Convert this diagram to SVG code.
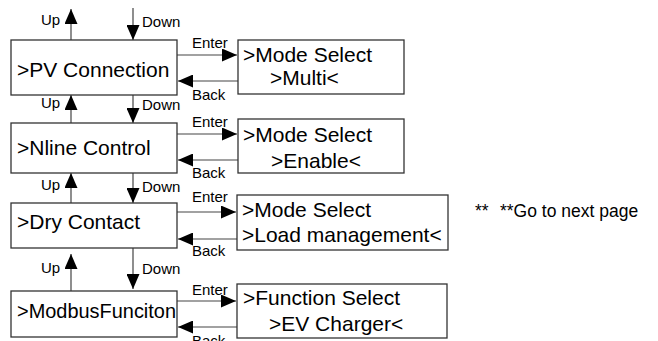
<svg xmlns="http://www.w3.org/2000/svg" width="658" height="341" viewBox="0 0 658 341">
<style>
.box{fill:#fff;stroke:#333;stroke-width:1.3}
.t{font-family:"Liberation Sans",Arial,sans-serif;font-size:21px;fill:#000}
.l{font-family:"Liberation Sans",Arial,sans-serif;font-size:15px;fill:#000}
.n{font-family:"Liberation Sans",Arial,sans-serif;font-size:17.5px;fill:#000}
.c{stroke:#444;stroke-width:1.2;fill:none;marker-end:url(#ah)}
</style>
<defs>
<marker id="ah" markerUnits="userSpaceOnUse" markerWidth="15" markerHeight="13" refX="15" refY="6.5" orient="auto" viewBox="0 0 15 13">
<path d="M0,0 L15,6.5 L0,13 z" fill="#000"/>
</marker>
</defs>
<rect width="658" height="341" fill="#fff"/>
<g id="connectors">
<line class="c" x1="71" y1="40" x2="71" y2="9"/>
<line class="c" x1="133" y1="8" x2="133" y2="40"/>
<line class="c" x1="71" y1="123" x2="71" y2="95"/>
<line class="c" x1="133" y1="95" x2="133" y2="123"/>
<line class="c" x1="71" y1="203" x2="71" y2="173"/>
<line class="c" x1="133" y1="173" x2="133" y2="203"/>
<line class="c" x1="71" y1="291" x2="71" y2="254"/>
<line class="c" x1="133" y1="248" x2="133" y2="289"/>
<line class="c" x1="177" y1="55" x2="237" y2="55"/>
<line class="c" x1="238" y1="81" x2="178" y2="81"/>
<line class="c" x1="177" y1="134" x2="237" y2="134"/>
<line class="c" x1="238" y1="160" x2="178" y2="160"/>
<line class="c" x1="177" y1="212" x2="236" y2="212"/>
<line class="c" x1="237" y1="239" x2="178" y2="239"/>
<line class="c" x1="177" y1="301" x2="236" y2="301"/>
<line class="c" x1="237" y1="327" x2="178" y2="327"/>
<text class="l" x="41" y="25">Up</text>
<text class="l" x="142" y="27">Down</text>
<text class="l" x="41" y="108">Up</text>
<text class="l" x="142" y="110">Down</text>
<text class="l" x="41" y="190">Up</text>
<text class="l" x="142" y="192">Down</text>
<text class="l" x="41" y="273">Up</text>
<text class="l" x="142" y="274">Down</text>
<text class="l" x="192" y="48">Enter</text>
<text class="l" x="192" y="100">Back</text>
<text class="l" x="192" y="127">Enter</text>
<text class="l" x="192" y="178">Back</text>
<text class="l" x="192" y="202">Enter</text>
<text class="l" x="192" y="256">Back</text>
<text class="l" x="192" y="295">Enter</text>
<text class="l" x="192" y="346">Back</text>
</g>
<g id="pv">
<rect class="box" x="11" y="40" width="166" height="55"/>
<text class="t" x="17" y="77">&gt;PV Connection</text>
</g>
<g id="nline">
<rect class="box" x="11" y="123" width="166" height="50"/>
<text class="t" x="17" y="155">&gt;Nline Control</text>
</g>
<g id="dry">
<rect class="box" x="11" y="203" width="166" height="45"/>
<text class="t" x="17" y="229">&gt;Dry Contact</text>
</g>
<g id="modbus">
<rect class="box" x="11" y="291" width="166" height="46"/>
<text class="t" x="17" y="318" textLength="159" lengthAdjust="spacingAndGlyphs">&gt;ModbusFunciton</text>
</g>
<g id="pv-mode">
<rect class="box" x="238" y="40" width="166" height="54"/>
<text class="t" x="243" y="62">&gt;Mode Select</text>
<text class="t" x="270" y="85">&gt;Multi&lt;</text>
</g>
<g id="nline-mode">
<rect class="box" x="238" y="119" width="166" height="54"/>
<text class="t" x="243" y="142">&gt;Mode Select</text>
<text class="t" x="271" y="168">&gt;Enable&lt;</text>
</g>
<g id="dry-mode">
<rect class="box" x="237" y="195" width="211" height="55"/>
<text class="t" x="242" y="217">&gt;Mode Select</text>
<text class="t" x="242" y="242">&gt;Load management&lt;</text>
</g>
<g id="modbus-func">
<rect class="box" x="237" y="284" width="210" height="54"/>
<text class="t" x="243" y="305">&gt;Function Select</text>
<text class="t" x="269" y="331">&gt;EV Charger&lt;</text>
</g>
<g id="note">
<text class="n" x="475" y="217">**</text>
<text class="n" x="500" y="217">**Go to next page</text>
</g>
</svg>
